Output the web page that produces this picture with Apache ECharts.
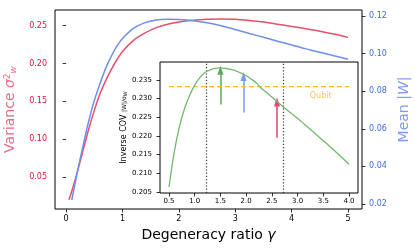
<!DOCTYPE html>
<html><head><meta charset="utf-8">
<script src="https://cdn.jsdelivr.net/npm/echarts@6/dist/echarts.min.js"></script>
<style>html,body{margin:0;padding:0;background:#fff}#c{width:415px;height:250px}</style>
</head><body><div id="c"></div>
<script>
// ---- data ----
const gammaVar = [0.05,0.1,0.2,0.3,0.4,0.5,0.6,0.7,0.8,0.9,1.0,1.2,1.4,1.6,1.8,2.0,2.25,2.5,2.75,3.0,3.25,3.5,3.75,4.0,4.25,4.5,4.75,5.0];
const variance = [0.0197,0.031,0.057,0.085,0.113,0.138,0.160,0.177,0.192,0.205,0.216,0.231,0.2405,0.2475,0.252,0.2550,0.2573,0.2585,0.2589,0.2586,0.2570,0.2548,0.2520,0.2490,0.2460,0.2428,0.2390,0.2346];
const gammaMean = [0.1,0.2,0.3,0.4,0.5,0.6,0.7,0.8,0.9,1.0,1.2,1.4,1.6,1.8,2.0,2.25,2.5,2.75,3.0,3.25,3.5,3.75,4.0,4.25,4.5,4.75,5.0];
const meanW = [0.0221,0.037,0.051,0.064,0.075,0.084,0.092,0.0985,0.1040,0.1080,0.1135,0.1165,0.1179,0.1183,0.1181,0.1175,0.1164,0.1148,0.1128,0.1107,0.1087,0.1066,0.1046,0.1025,0.1007,0.0988,0.0970];
const gammaInset = [0.5,0.6,0.7,0.8,0.9,1.0,1.1,1.2,1.3,1.4,1.5,1.6,1.7,1.8,1.9,2.0,2.1,2.2,2.3,2.4,2.5,2.6,2.7,2.8,2.9,3.0,3.2,3.4,3.6,3.8,4.0];
const invCov = [0.2063,0.2155,0.2223,0.2272,0.2308,0.2336,0.2356,0.2370,0.2377,0.2381,0.2382,0.2381,0.2378,0.2374,0.2368,0.2361,0.2352,0.2342,0.2327,0.2316,0.2304,0.2292,0.2280,0.2269,0.2258,0.2247,0.2223,0.2199,0.2175,0.2150,0.2124];
const qubitLevel = 0.2332;
const qubitSpan = [0.5, 4.0];
const qubitLabelPos = [3.45, 0.2306];
const dottedX = [1.22, 2.72];
const arrowX = [1.5, 1.95, 2.6];
const arrowFrom = [0.2284, 0.2263, 0.2195];
const arrowTo = [0.2376, 0.2359, 0.2291];
const mainXTicks = [0,1,2,3,4,5];
const leftYTicks = [0.05,0.10,0.15,0.20,0.25];
const rightYTicks = [0.02,0.04,0.06,0.08,0.10,0.12];
const insetXTicks = [0.5,1.0,1.5,2.0,2.5,3.0,3.5,4.0];
const insetYTicks = [0.205,0.210,0.215,0.220,0.225,0.230,0.235];

// ---- styles ----
const FONT = 'DejaVu Sans';
const RED = '#e54f6d', RED_LBL = '#dc143c', RED_TTL = '#ea6a84';
const BLUE = '#718fe8', BLUE_LBL = '#4169e1', BLUE_TTL = '#7f9aee';
const GREEN = '#74b86c';
const ORANGE = '#ffb733';
const arrowColors = ['#5aa85a', '#7b98ee', '#e2456a'];

const zip = (a, b) => a.map((v, i) => [v, b[i]]);
const tick = (vals) => ({show: true, inside: false, length: 3.5, customValues: vals, lineStyle: {color: '#000', width: 0.8}});

const chart = echarts.init(document.getElementById('c'), null, {renderer: 'canvas'});
chart.setOption({
  animation: false,
  backgroundColor: '#fff',
  grid: [
    {left: 55, right: 53, top: 10, bottom: 41, show: true, borderColor: '#000', borderWidth: 1, backgroundColor: 'transparent', outerBoundsMode: 'none', containLabel: false},
    {left: 160, right: 57, top: 62, bottom: 57, show: true, borderColor: '#000', borderWidth: 1, backgroundColor: '#fff', z: 5, outerBoundsMode: 'none', containLabel: false}
  ],
  xAxis: [
    {type: 'value', gridIndex: 0, min: -0.1975, max: 5.2475,
     axisLine: {show: false}, splitLine: {show: false},
     axisTick: tick(mainXTicks),
     axisLabel: {customValues: mainXTicks, formatter: v => String(Math.round(v)), fontFamily: FONT, fontSize: 8, color: '#000', margin: 6},
     name: 'Degeneracy ratio {i|γ}', nameLocation: 'middle', nameGap: 14,
     nameTextStyle: {fontFamily: FONT, fontSize: 14, color: '#000', rich: {i: {fontFamily: FONT, fontSize: 14, fontStyle: 'italic', color: '#000'}}}},
    {type: 'value', gridIndex: 1, min: 0.325, max: 4.175, z: 6,
     axisLine: {show: false}, splitLine: {show: false},
     axisTick: tick(insetXTicks),
     axisLabel: {customValues: insetXTicks, formatter: v => v.toFixed(1), fontFamily: FONT, fontSize: 7, color: '#000', margin: 5}}
  ],
  yAxis: [
    {type: 'value', gridIndex: 0, min: 0.0075, max: 0.2708, position: 'left',
     axisLine: {show: false}, splitLine: {show: false},
     axisTick: tick(leftYTicks),
     axisLabel: {customValues: leftYTicks, formatter: v => v.toFixed(2), fontFamily: FONT, fontSize: 8, color: RED_LBL, margin: 8},
     name: 'Variance {i|σ}{p|2}{b|w}', nameLocation: 'middle', nameGap: 33,
     nameTextStyle: {fontFamily: FONT, fontSize: 14, color: RED_TTL,
       rich: {i: {fontFamily: FONT, fontSize: 14, fontStyle: 'italic', color: RED_TTL},
              p: {fontFamily: FONT, fontSize: 9, color: RED_TTL, verticalAlign: 'top', padding: [0,0,6,0]},
              b: {fontFamily: FONT, fontSize: 9, fontStyle: 'italic', color: RED_TTL, verticalAlign: 'bottom', padding: [6,0,0,0]}}}},
    {type: 'value', gridIndex: 0, min: 0.0173, max: 0.1232, position: 'right',
     axisLine: {show: false}, splitLine: {show: false},
     axisTick: tick(rightYTicks),
     axisLabel: {customValues: rightYTicks, formatter: v => v.toFixed(2), fontFamily: FONT, fontSize: 8, color: BLUE_LBL, margin: 7},
     name: 'Mean |{i|W}|', nameLocation: 'middle', nameGap: 29,
     nameTextStyle: {fontFamily: FONT, fontSize: 14, color: BLUE_TTL,
       rich: {i: {fontFamily: FONT, fontSize: 14, fontStyle: 'italic', color: BLUE_TTL}}}},
    {type: 'value', gridIndex: 1, min: 0.2047, max: 0.2398, z: 6,
     axisLine: {show: false}, splitLine: {show: false},
     axisTick: tick(insetYTicks),
     axisLabel: {customValues: insetYTicks, formatter: v => v.toFixed(3), fontFamily: FONT, fontSize: 7, color: '#000', margin: 8},
     name: 'Inverse COV {f||W|/σ}{s|W}', nameLocation: 'middle', nameGap: 31,
     nameTextStyle: {fontFamily: FONT, fontSize: 8, color: '#000',
       rich: {f: {fontFamily: FONT, fontSize: 6, color: '#000'}, s: {fontFamily: FONT, fontSize: 5, color: '#000', verticalAlign: 'bottom'}}}}
  ],
  series: [
    {type: 'line', xAxisIndex: 0, yAxisIndex: 0, data: zip(gammaVar, variance), smooth: 0.3, showSymbol: false,
     lineStyle: {color: RED, width: 1.5}, z: 2},
    {type: 'line', xAxisIndex: 0, yAxisIndex: 1, data: zip(gammaMean, meanW), smooth: 0.3, showSymbol: false,
     lineStyle: {color: BLUE, width: 1.5}, z: 2},
    {type: 'line', xAxisIndex: 1, yAxisIndex: 2, data: zip(qubitSpan, qubitSpan.map(() => qubitLevel)), showSymbol: false,
     lineStyle: {color: ORANGE, width: 1.3, type: [5, 3]}, z: 10},
    {type: 'line', xAxisIndex: 1, yAxisIndex: 2, data: zip(gammaInset, invCov), smooth: 0.3, showSymbol: false,
     lineStyle: {color: GREEN, width: 1.3}, z: 11,
     markLine: {silent: true, symbol: ['none', 'none'], label: {show: false},
       lineStyle: {color: '#333', type: [1.2, 2], width: 1.2},
       data: dottedX.map(x => ({xAxis: x}))}},
    {type: 'line', xAxisIndex: 1, yAxisIndex: 2, data: [], z: 12,
     markLine: {silent: true, symbol: ['none', 'triangle'], symbolSize: [6, 9], label: {show: false},
       data: arrowX.map((x, i) => [
         {coord: [x, arrowFrom[i]], lineStyle: {color: arrowColors[i], width: 1.5, type: 'solid'}, itemStyle: {color: arrowColors[i]}},
         {coord: [x, arrowTo[i]], itemStyle: {color: arrowColors[i]}}
       ])}},
    {type: 'scatter', xAxisIndex: 1, yAxisIndex: 2, data: [qubitLabelPos], symbolSize: 0, z: 12,
     label: {show: true, position: 'inside', formatter: 'Qubit', fontFamily: FONT, fontSize: 8, color: ORANGE}}
  ]
});
</script></body></html>
